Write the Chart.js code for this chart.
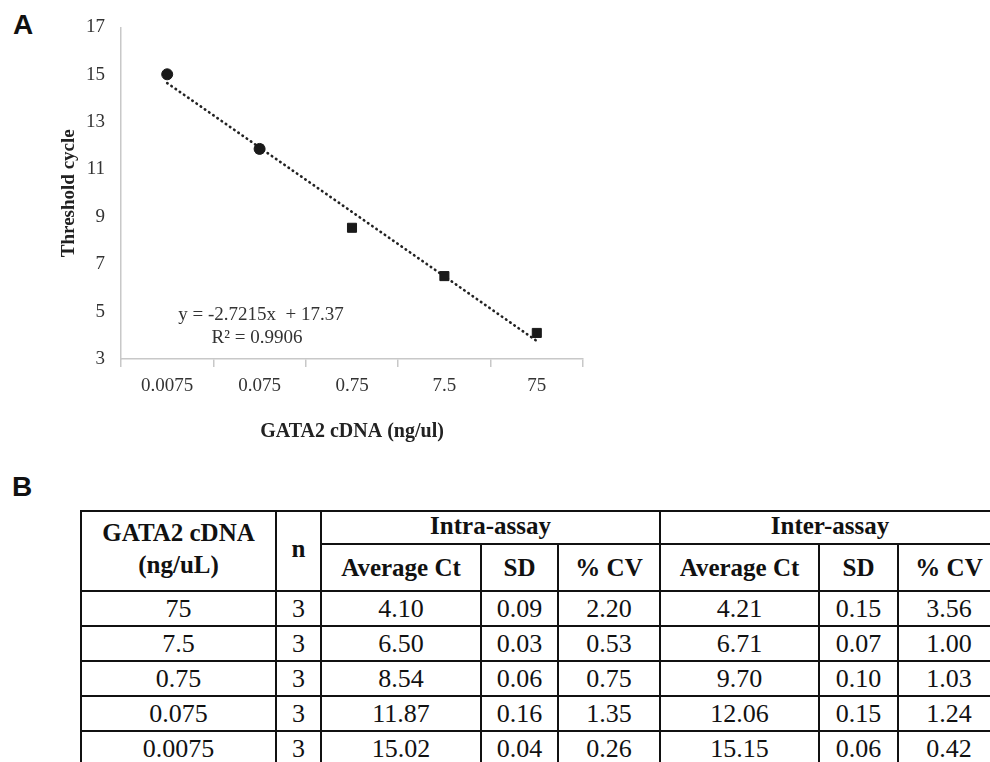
<!DOCTYPE html>
<html>
<head>
<meta charset="utf-8">
<script src="https://cdn.jsdelivr.net/npm/chart.js@4"></script>
<style>
  body { margin: 0; width: 990px; height: 762px; overflow: hidden; background: #fff; position: relative; }
  .panel-label { position: absolute; font-family: 'Liberation Sans', Arial, sans-serif; font-weight: bold; font-size: 28px; color: #111; line-height: 1; }
  #chartBox { position: absolute; left: 0; top: 0; width: 620px; height: 460px; }
  #assayTable { position: absolute; left: 80px; top: 510px; width: 919px; border-collapse: collapse; table-layout: fixed; font-family: 'Liberation Serif', 'Times New Roman', serif; color: #111; }
  #assayTable td, #assayTable th { border: 2px solid #111; padding: 0; text-align: center; vertical-align: middle; line-height: 1; }
  #assayTable th { font-weight: bold; font-size: 25px; }
  #assayTable th.conc { line-height: 1.3; padding-bottom: 4px; }
  #assayTable th.top { padding-bottom: 4px; }
  #assayTable td { font-size: 26px; height: 33px; }
</style>
</head>
<body>
<div class="panel-label" style="left:13px; top:11px;">A</div>
<div class="panel-label" style="left:12px; top:473px;">B</div>
<div id="chartBox"><canvas id="stdCurve" width="620" height="460"></canvas></div>
<table id="assayTable">
  <colgroup>
    <col style="width:195px"><col style="width:45px"><col style="width:160px"><col style="width:77px"><col style="width:102px">
    <col style="width:159px"><col style="width:79px"><col style="width:102px">
  </colgroup>
  <thead>
    <tr style="height:33px">
      <th rowspan="2" class="conc">GATA2 cDNA<br>(ng/uL)</th>
      <th rowspan="2" class="conc">n</th>
      <th colspan="3" class="top">Intra-assay</th>
      <th colspan="3" class="top">Inter-assay</th>
    </tr>
    <tr style="height:47px">
      <th>Average Ct</th><th>SD</th><th>% CV</th>
      <th>Average Ct</th><th>SD</th><th>% CV</th>
    </tr>
  </thead>
  <tbody id="assayRows"></tbody>
</table>
<script>
// Table data (rows ordered as in the table, high to low concentration)
const concentrations = ['75', '7.5', '0.75', '0.075', '0.0075'];
const replicates = [3, 3, 3, 3, 3];
const intraAvg = ['4.10', '6.50', '8.54', '11.87', '15.02'];
const intraSD = ['0.09', '0.03', '0.06', '0.16', '0.04'];
const intraCV = ['2.20', '0.53', '0.75', '1.35', '0.26'];
const interAvg = ['4.21', '6.71', '9.70', '12.06', '15.15'];
const interSD = ['0.15', '0.07', '0.10', '0.15', '0.06'];
const interCV = ['3.56', '1.00', '1.03', '1.24', '0.42'];

// Chart data (low to high concentration, as on the x axis)
const xLabels = concentrations.slice().reverse();
const ctValues = intraAvg.slice().reverse().map(Number);
const ctErrors = intraSD.slice().reverse().map(Number);
const markerStyles = ['circle', 'circle', 'rect', 'rect', 'rect'];
const trendValues = [14.65, 11.93, 9.21, 6.49, 3.76];
const yTicks = { min: 3, max: 17, step: 2 };
const equationLines = ['y = -2.7215x  + 17.37', 'R\u00b2 = 0.9906'];

// Build table rows
document.getElementById('assayRows').innerHTML = concentrations.map((c, i) => `
  <tr>
    <td>${c}</td><td>${replicates[i]}</td>
    <td>${intraAvg[i]}</td><td>${intraSD[i]}</td><td>${intraCV[i]}</td>
    <td>${interAvg[i]}</td><td>${interSD[i]}</td><td>${interCV[i]}</td>
  </tr>`).join('');

const serif = "'Liberation Serif', 'Times New Roman', serif";
const axisGray = '#c8c8c8';

// error bars drawn on top of the markers
const errorBars = {
  id: 'errorBars',
  afterDatasetsDraw(chart) {
    const meta = chart.getDatasetMeta(0);
    const y = chart.scales.y;
    const ctx = chart.ctx;
    ctx.save();
    ctx.strokeStyle = '#1a1a1a';
    ctx.lineWidth = 1.5;
    meta.data.forEach((pt, i) => {
      const top = y.getPixelForValue(ctValues[i] + ctErrors[i]);
      const bot = y.getPixelForValue(ctValues[i] - ctErrors[i]);
      ctx.beginPath();
      ctx.moveTo(pt.x, top); ctx.lineTo(pt.x, bot);
      ctx.moveTo(pt.x - 4, top); ctx.lineTo(pt.x + 4, top);
      ctx.moveTo(pt.x - 4, bot); ctx.lineTo(pt.x + 4, bot);
      ctx.stroke();
    });
    ctx.restore();
  }
};

// trendline equation text
const equationLabel = {
  id: 'equationLabel',
  afterDraw(chart) {
    const ctx = chart.ctx;
    ctx.save();
    ctx.font = `19px ${serif}`;
    ctx.fillStyle = '#333';
    ctx.textAlign = 'center';
    ctx.textBaseline = 'middle';
    ctx.fillText(equationLines[0], 261, 315);
    ctx.fillText(equationLines[1], 257, 338);
    ctx.restore();
  }
};

new Chart(document.getElementById('stdCurve'), {
  type: 'line',
  data: {
    labels: xLabels,
    datasets: [
      {
        label: 'Threshold cycle',
        data: ctValues,
        showLine: false,
        pointStyle: markerStyles,
        pointRadius: [5.5, 5.5, 6.4, 6.4, 6.4],
        pointBackgroundColor: '#1a1a1a',
        pointBorderColor: '#1a1a1a',
        pointBorderWidth: 1,
      },
      {
        label: 'Trend',
        data: trendValues,
        borderColor: '#222',
        borderWidth: 2.6,
        borderDash: [0.5, 4.6],
        borderCapStyle: 'round',
        pointRadius: 0,
        fill: false,
      },
    ],
  },
  options: {
    responsive: false,
    animation: false,
    layout: { padding: { left: 54, top: 25, right: 37, bottom: 12 } },
    plugins: {
      legend: { display: false },
      tooltip: { enabled: false },
    },
    scales: {
      x: {
        type: 'category',
        offset: true,
        afterFit: (s) => { s.height = 89; },
        grid: { display: true, drawOnChartArea: false, offset: true, tickLength: 8, color: axisGray, lineWidth: 1.5 },
        border: { display: true, color: axisGray, width: 1.5 },
        ticks: { color: '#333', font: { family: serif, size: 19 }, padding: 8 },
        title: { display: true, text: 'GATA2 cDNA (ng/ul)', color: '#222', font: { family: serif, size: 20, weight: 'bold' }, padding: 4 },
      },
      y: {
        min: yTicks.min,
        max: yTicks.max,
        afterFit: (s) => { s.width = 67; },
        grid: { display: true, drawOnChartArea: false, drawTicks: false },
        border: { display: true, color: axisGray, width: 1.5 },
        ticks: { stepSize: yTicks.step, color: '#333', font: { family: serif, size: 19 }, padding: 16 },
        title: { display: true, text: 'Threshold cycle', color: '#222', font: { family: serif, size: 19, weight: 'bold' }, padding: 4 },
      },
    },
  },
  plugins: [errorBars, equationLabel],
});
</script>
</body>
</html>
